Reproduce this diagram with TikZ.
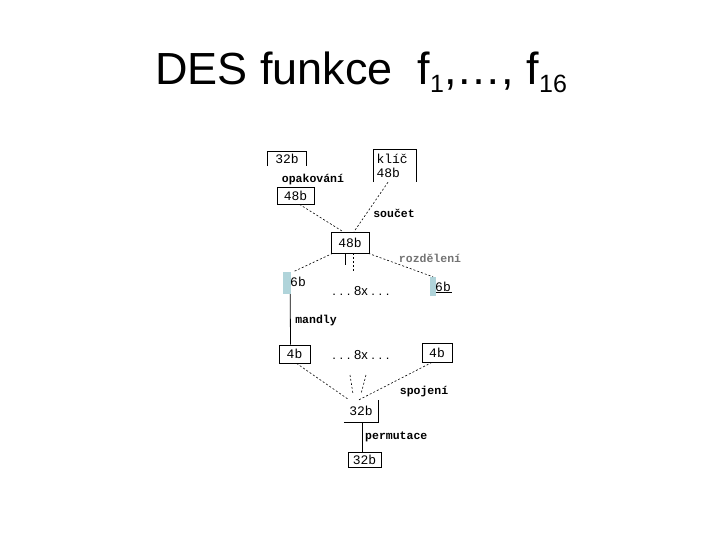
\documentclass[tikz,border=0pt]{standalone}
\usepackage{fontspec}
\setmainfont{Liberation Sans}
\newfontfamily\dmono{Liberation Mono}
\usetikzlibrary{calc}
\definecolor{sbblue}{RGB}{176,212,218}
\tikzset{
  boxt/.style={inner sep=0pt, font=\dmono\fontsize{13}{14}\selectfont},
  fullbox/.style={boxt, draw, line width=0.7pt},
  lbl/.style={inner sep=0pt, font=\dmono\bfseries\fontsize{11.5}{12}\selectfont},
  dl/.style={line width=0.6pt, dash pattern=on 2pt off 2pt},
  sl/.style={line width=0.8pt},
}
\begin{document}
\begin{tikzpicture}[x=1pt,y=-1pt]
\useasboundingbox (0,0) rectangle (720,540);
% title
\node[anchor=base, inner sep=0pt, font=\fontsize{45}{48}\selectfont] (title) at (361,85)
  {DES funkce\ \ f\raisebox{-8pt}{\fontsize{25}{26}\selectfont 1},\dots, f\raisebox{-8pt}{\fontsize{25}{26}\selectfont 16}};

% boxes
\node[boxt, minimum width=38pt, minimum height=14pt] (b32top) at (287,159) {32b};
\draw[sl] (b32top.south west) -- (b32top.north west) -- (b32top.north east) -- (b32top.south east);
\node[lbl] (opak) at (313,180) {opakování};
\node[fullbox, minimum width=37pt, minimum height=17pt] (b48a) at (295.5,195.5) {48b};

\node[boxt, minimum width=42pt, minimum height=32pt, align=left, text width=37pt] (key) at (395,166) {klíč\\48b};
\draw[sl] (key.south west) -- (key.north west) -- (key.north east) -- (key.south east);
\node[lbl] (soucet) at (394,213) {součet};

\node[fullbox, minimum width=38pt, minimum height=21pt] (b48c) at (350,242.5) {48b};
\node[lbl, text=black!55] (rozd) at (430,258) {rozdělení};

% 6b left / right
\node[fill=sbblue, minimum width=8pt, minimum height=22pt, inner sep=0pt] (sL) at (287,283) {};
\node[boxt, anchor=west] (t6L) at (290,282) {6b};
\node[fill=sbblue, minimum width=6pt, minimum height=19pt, inner sep=0pt] (sR) at (433,286.5) {};
\node[boxt, anchor=west] (t6R) at (435,287) {6b};

\node[inner sep=0pt, font=\fontsize{13}{14}\selectfont] (x8a) at (361,291) {.\ .\ .\ 8x\ .\ .\ .};
\node[lbl] (mandly) at (316,321) {mandly};

\node[fullbox, minimum width=31pt, minimum height=18pt] (b4l) at (294.5,354) {4b};
\node[fullbox, minimum width=30pt, minimum height=19pt] (b4r) at (437,352.5) {4b};
\node[inner sep=0pt, font=\fontsize{13}{14}\selectfont] (x8b) at (361,355) {.\ .\ .\ 8x\ .\ .\ .};

\node[lbl] (spoj) at (424,392) {spojení};
\node[boxt, minimum width=34pt, minimum height=22pt] (b32m) at (361,411) {32b};
\draw[sl] (b32m.south west) -- (b32m.south east) -- (b32m.north east);
\node[lbl, anchor=west] (perm) at (365,437) {permutace};
\node[fullbox, minimum width=33pt, minimum height=15pt] (b32b) at (364.5,459.5) {32b};

% connectors
\draw[dl] ($(b48a.south)+(4,0)$) -- ($(b48c.north)+(-7,0)$);
\draw[dl] ($(key.south)+(-7,0)$) -- ($(b48c.north)+(4,0)$);
\draw[dl] ($(b48c.south west)+(2,0)$) -- ($(sL.north east)+(2,0)$);
\draw[dl] ($(b48c.south east)+(-1,0)$) -- (sR.north);
\coordinate (sa) at (345,265);
\coordinate (sb) at (353,271);
\draw[sl] ($(b48c.south)+(-5,0)$) -- (sa);
\draw[dl] ($(b48c.south)+(3,0)$) -- (sb);

\draw[sl] ($(sL.south east)+(-1,0)$) -- ($(b4l.north)+(-4,0)$);
\coordinate (rh) at (452,292);
\draw[sl] (sR.east |- rh) -- (rh);
\draw[sl] ($(b4r.north)+(3,0)$ |- rh) -- ($(b4r.north)+(3,0)$);

\draw[dl] ($(b4l.south)+(2,0)$) -- ($(b32m.north)+(-12,0)$);
\draw[dl] ($(b4r.south)+(-5,0)$) -- ($(b32m.north)+(-2,0)$);
\coordinate (d1a) at (350,375); \coordinate (d1b) at (353,394);
\coordinate (d2a) at (366,375); \coordinate (d2b) at (361,394);
\draw[dl] (d1a) -- (d1b);
\draw[dl] (d2a) -- (d2b);

\draw[sl] ($(b32m.south)+(1,0)$) -- ($(b32b.north)+(-2.5,0)$);
\end{tikzpicture}
\end{document}
